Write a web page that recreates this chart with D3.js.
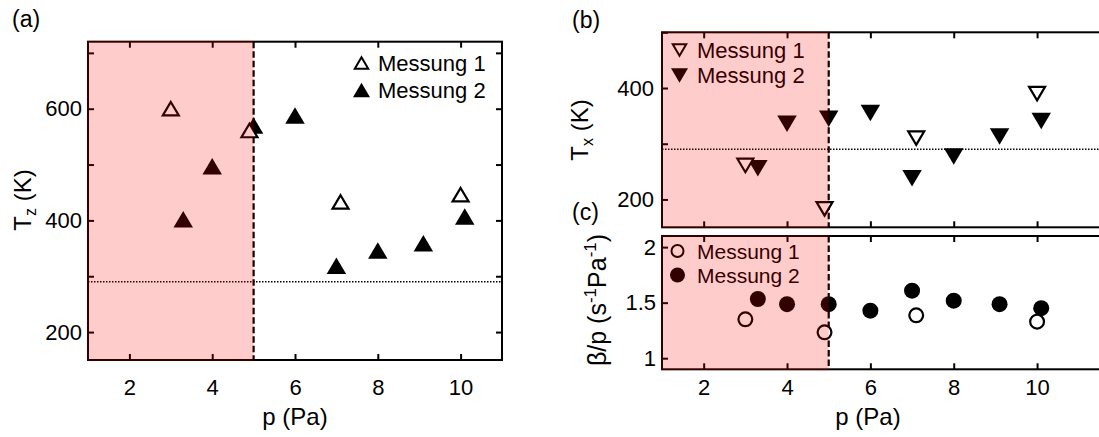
<!DOCTYPE html>
<html><head><meta charset="utf-8">
<script src="https://cdn.jsdelivr.net/npm/d3@7"></script>
<style>
html,body{margin:0;padding:0;background:#fff;}
svg{display:block;}
text{font-family:Arial,"Liberation Sans",sans-serif;fill:#000;}
</style></head>
<body>
<svg id="c" width="1099" height="437"></svg>
<script>
// ---- data ----
const xTickVals = [2, 4, 6, 8, 10];
// panel (a) T_z
const tzP1 = [3.0, 4.9, 7.1, 10.0];
const tzM1 = [600, 561, 433, 446];
const tzP2 = [3.3, 4.0, 5.0, 6.0, 7.0, 8.0, 9.1, 10.1];
const tzM2 = [402, 497, 570, 588, 319, 346, 359, 407];
const tzTicks = [200, 300, 400, 500, 600, 700];
const tzLabels = [200, 400, 600];
// panel (b) T_x
const txP1 = [3.0, 4.9, 7.1, 10.0];
const txM1 = [261, 183, 310, 390];
const txP2 = [3.3, 4.0, 5.0, 6.0, 7.0, 8.0, 9.1, 10.1];
const txM2 = [256, 336, 345, 355, 238, 277, 313, 341];
const txTicks = [200, 300, 400, 500];
const txLabels = [200, 400];
// panel (c) beta/p
const bpP1 = [3.0, 4.9, 7.1, 10.0];
const bpM1 = [1.35, 1.233, 1.386, 1.329];
const bpP2 = [3.3, 4.0, 5.0, 6.0, 7.0, 8.0, 9.1, 10.1];
const bpM2 = [1.533, 1.486, 1.486, 1.428, 1.608, 1.518, 1.486, 1.45];
const bpTicks = [1, 1.5, 2];
const roomT = 290;
const limitP = 5;
const seriesNames = ["Messung 1", "Messung 2"];

const svg = d3.select("#c");
const FS = 22;

function triPath(w, h, up) {
  const hw = w / 2, hh = h / 2;
  return up ? `M0,${-hh}L${hw},${hh}L${-hw},${hh}Z` : `M0,${hh}L${hw},${-hh}L${-hw},${-hh}Z`;
}

function panel(o) {
  const g = svg.append("g");
  const [x0, x1] = o.x.range();
  const [yb, yt] = o.y.range();
  if (o.dotted !== undefined) {
    g.append("line").attr("x1", x0).attr("x2", x1)
      .attr("y1", o.y(o.dotted)).attr("y2", o.y(o.dotted))
      .attr("stroke", "#000").attr("stroke-width", 1.5).attr("stroke-dasharray", "1.5,1.5");
  }
  g.append("line").attr("x1", o.x(limitP)).attr("x2", o.x(limitP))
    .attr("y1", yt).attr("y2", yb)
    .attr("stroke", "#000").attr("stroke-width", 2.2).attr("stroke-dasharray", "6.5,3");
  const ax = [
    d3.axisBottom(o.x).tickValues(xTickVals).tickSize(-6).tickPadding(o.xPad).tickFormat(o.xLabels ? d3.format("d") : () => ""),
    d3.axisTop(o.x).tickValues(xTickVals).tickSize(-6).tickFormat(() => ""),
    d3.axisLeft(o.y).tickValues(o.ticks).tickSize(-6).tickPadding(o.pad).tickFormat(o.fmt),
    d3.axisRight(o.y).tickValues(o.ticks).tickSize(-6).tickFormat(() => "")
  ];
  const pos = [[0, yb], [0, yt], [x0, 0], [x1, 0]];
  ax.forEach((a, i) => {
    const ag = g.append("g").attr("transform", `translate(${pos[i][0]},${pos[i][1]})`).call(a);
    ag.select(".domain").remove();
    ag.selectAll(".tick line").attr("stroke", "#000").attr("stroke-width", 2);
    ag.selectAll(".tick text").style("font-size", FS + "px").attr("fill", "#000");
  });
  g.append("rect").attr("x", x0).attr("y", yt).attr("width", x1 - x0).attr("height", yb - yt)
    .attr("fill", "none").attr("stroke", "#000").attr("stroke-width", 2);
  const mg = g.append("g");
  const d2 = o.p2.map((p, i) => [p, o.m2[i]]);
  const d1 = o.p1.map((p, i) => [p, o.m1[i]]);
  if (o.shape === "circle") {
    mg.selectAll(".f").data(d2).join("circle").attr("cx", d => o.x(d[0])).attr("cy", d => o.y(d[1]))
      .attr("r", 8).attr("fill", "#000");
    mg.selectAll(".o").data(d1).join("circle").attr("cx", d => o.x(d[0])).attr("cy", d => o.y(d[1]))
      .attr("r", 6.9).attr("fill", "#fff").attr("stroke", "#000").attr("stroke-width", 2.2);
  } else {
    mg.selectAll(".f").data(d2).join("path").attr("d", triPath(19.5, 16.5, o.up))
      .attr("transform", d => `translate(${o.x(d[0])},${o.y(d[1])})`).attr("fill", "#000");
    mg.selectAll(".o").data(d1).join("path").attr("d", triPath(16, 13.5, o.up))
      .attr("transform", d => `translate(${o.x(d[0])},${o.y(d[1])})`)
      .attr("fill", "#fff").attr("stroke", "#000").attr("stroke-width", 2.2).attr("stroke-linejoin", "miter");
  }
  const L = o.legend;
  seriesNames.forEach((nm, i) => {
    const ly = L.y + i * L.dy;
    if (o.shape === "circle") {
      if (i === 0) g.append("circle").attr("cx", L.mx).attr("cy", ly).attr("r", 6).attr("fill", "#fff").attr("stroke", "#000").attr("stroke-width", 2);
      else g.append("circle").attr("cx", L.mx).attr("cy", ly).attr("r", 7.5).attr("fill", "#000");
    } else {
      if (i === 0) g.append("path").attr("d", triPath(13.5, 11.5, o.up)).attr("transform", `translate(${L.mx},${ly})`)
        .attr("fill", "#fff").attr("stroke", "#000").attr("stroke-width", 2);
      else g.append("path").attr("d", triPath(17, 14.5, o.up)).attr("transform", `translate(${L.mx},${ly})`).attr("fill", "#000");
    }
    g.append("text").attr("x", L.tx).attr("y", ly).attr("dy", "0.36em").style("font-size", L.fs + "px").text(nm);
  });
  g.append("rect").attr("x", x0 - 1).attr("y", yt - 1).attr("width", o.x(limitP) - x0 + 1).attr("height", yb - yt + 2)
    .attr("fill", "#ff0000").attr("fill-opacity", 0.2);
  return g;
}

const xA = d3.scaleLinear().domain([1, 11]).range([88, 502]);
const yA = d3.scaleLinear().domain([150, 720]).range([360, 41.7]);
const xB = d3.scaleLinear().domain([1, 11.75]).range([662, 1110]);
const yB = d3.scaleLinear().domain([150, 500]).range([227.3, 32.3]);
const yC = d3.scaleLinear().domain([0.9, 2.1]).range([369.3, 236]);

panel({id: "a", x: xA, y: yA, ticks: tzTicks, fmt: d => tzLabels.includes(d) ? String(d) : "", pad: 6,
  xLabels: true, xPad: 19, p1: tzP1, m1: tzM1, p2: tzP2, m2: tzM2, up: true, shape: "tri", dotted: roomT,
  legend: {mx: 361.5, tx: 378, y: 63, dy: 27, fs: 22}});
panel({id: "b", x: xB, y: yB, ticks: txTicks, fmt: d => txLabels.includes(d) ? String(d) : "", pad: 8,
  xLabels: false, xPad: 10, p1: txP1, m1: txM1, p2: txP2, m2: txM2, up: false, shape: "tri", dotted: roomT,
  legend: {mx: 679.5, tx: 697, y: 50, dy: 25.5, fs: 22}});
panel({id: "c", x: xB, y: yC, ticks: bpTicks, fmt: d => String(d), pad: 6,
  xLabels: true, xPad: 10, p1: bpP1, m1: bpM1, p2: bpP2, m2: bpM2, shape: "circle",
  legend: {mx: 677.5, tx: 697, y: 251, dy: 24, fs: 21}});

svg.append("text").attr("x", 12).attr("y", 27).style("font-size", "23px").text("(a)");
svg.append("text").attr("x", 572).attr("y", 28).style("font-size", "23px").text("(b)");
svg.append("text").attr("x", 572).attr("y", 220).style("font-size", "23px").text("(c)");

svg.append("text").attr("x", 295).attr("y", 425).attr("text-anchor", "middle").style("font-size", "24px").text("p (Pa)");
svg.append("text").attr("x", 868).attr("y", 425).attr("text-anchor", "middle").style("font-size", "24px").text("p (Pa)");

const tz = svg.append("text").attr("transform", "translate(31,200) rotate(-90)").attr("text-anchor", "middle").style("font-size", "24px");
tz.append("tspan").text("T");
tz.append("tspan").attr("dy", 5).style("font-size", "16px").text("z");
tz.append("tspan").attr("dy", -5).text(" (K)");

const tx = svg.append("text").attr("transform", "translate(588,130) rotate(-90)").attr("text-anchor", "middle").style("font-size", "24px");
tx.append("tspan").text("T");
tx.append("tspan").attr("dy", 5).style("font-size", "16px").text("x");
tx.append("tspan").attr("dy", -5).text(" (K)");

const bp = svg.append("text").attr("transform", "translate(606,300) rotate(-90)").attr("text-anchor", "middle").style("font-size", "25px");
bp.append("tspan").text("β/p (s");
bp.append("tspan").attr("dy", -10).style("font-size", "17px").text("-1");
bp.append("tspan").attr("dy", 10).text("Pa");
bp.append("tspan").attr("dy", -10).style("font-size", "17px").text("-1");
bp.append("tspan").attr("dy", 10).text(")");
</script>
</body></html>
